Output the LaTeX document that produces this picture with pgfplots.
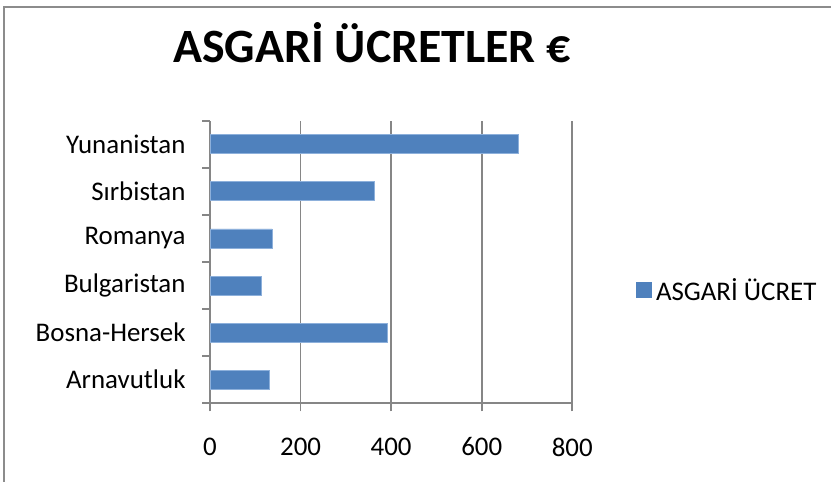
\documentclass[border=0pt]{standalone}
\usepackage{pgfplots}
\pgfplotsset{compat=1.18}
\usepackage{fontspec}
\setmainfont{Carlito}
\definecolor{barblue}{HTML}{4F81BD}
\definecolor{baredge}{HTML}{8DB0DB}
\definecolor{gridgray}{HTML}{868686}
\definecolor{framegray}{HTML}{8C8C8C}
\begin{document}
\begin{tikzpicture}[x=1bp,y=1bp]
\useasboundingbox (0,0) rectangle (831,482);
\draw[framegray,line width=1.5bp] (4,-10) -- (4,475) -- (840,475);
\node[font=\fontsize{48}{52}\selectfont\bfseries,anchor=center] at (372,439) {ASGARİ ÜCRETLER €};
\begin{axis}[
  at={(210bp,78.7bp)}, anchor=south west,
  scale only axis, width=362.3bp, height=282.6bp,
  xbar, bar width=19bp,
  xmin=0, xmax=800, ymin=-0.5, ymax=5.5,
  xtick={0,200,400,600,800},
  ytick={-0.5,0.5,1.5,2.5,3.5,4.5,5.5},
  yticklabels={},
  extra y ticks={0,1,2,3,4,5},
  extra y tick labels={Arnavutluk,Bosna-Hersek,Bulgaristan,Romanya,Sırbistan,Yunanistan},
  extra y tick style={major tick length=0pt, tick style={draw=none}},
  axis lines*=left,
  axis line style={gridgray,line width=1.8bp},
  tick align=outside,
  major tick length=8bp,
  ytick style={gridgray,line width=1.8bp},
  xtick style={gridgray,line width=1.8bp},
  xmajorgrids, major grid style={gridgray,line width=1.8bp},
  tick label style={font=\fontsize{27}{31}\selectfont},
  /pgf/number format/assume math mode=true,
  yticklabel shift=21bp,
  xticklabel shift=23bp,
  legend style={at={(1.176,0.401)}, anchor=west, draw=none, fill=none, font=\fontsize{27}{31}\selectfont, inner sep=0pt, nodes={inner xsep=4bp}},
  legend cell align=left,
  legend image code/.code={\fill[barblue] (0bp,-7.5bp) rectangle (15bp,7.5bp);},
]
\addplot[fill=barblue, draw=baredge, line width=0.75bp] coordinates {
  (130,0) (391,1) (113,2) (137,3) (363,4) (681,5)
};
\legend{ASGARİ ÜCRET}
\end{axis}
\end{tikzpicture}
\end{document}
